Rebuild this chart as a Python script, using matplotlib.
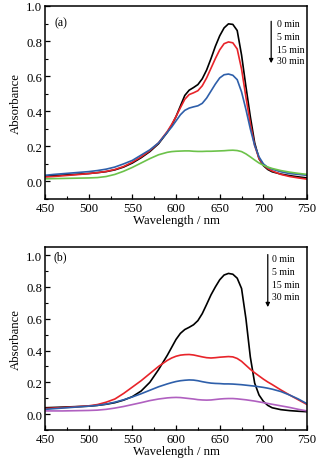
import matplotlib
matplotlib.use("Agg")
import matplotlib.pyplot as plt
from matplotlib.ticker import MultipleLocator

plt.rcParams['font.family'] = ['Liberation Serif', 'DejaVu Serif']

wl = [450, 460, 470, 480, 490, 500, 510, 520, 530, 540, 550, 560, 570, 580, 590,
      595, 600, 605, 610, 615, 620, 625, 630, 635, 640, 645, 650, 655, 660, 665,
      670, 675, 680, 685, 690, 695, 700, 705, 710, 720, 730, 740, 750]

a_0min = [.030, .033, .036, .039, .042, .045, .050, .056, .066, .082, .105, .135, .170, .215, .280,
          .320, .370, .430, .490, .520, .535, .552, .585, .635, .700, .770, .830, .875, .898, .895,
          .860, .720, .540, .370, .220, .130, .090, .068, .055, .042, .033, .026, .020]
a_5min = [.025, .028, .032, .036, .040, .045, .050, .057, .068, .085, .110, .140, .175, .220, .285,
          .325, .370, .420, .468, .495, .505, .517, .545, .590, .645, .700, .750, .785, .795, .790,
          .755, .640, .480, .330, .205, .130, .095, .073, .060, .040, .028, .020, .013]
a_15min = [.035, .040, .044, .048, .052, .056, .062, .070, .082, .100, .120, .150, .180, .220, .280,
           .310, .345, .380, .405, .418, .425, .431, .445, .475, .515, .555, .590, .608, .612, .605,
           .580, .510, .410, .300, .205, .140, .100, .080, .070, .055, .045, .040, .035]
a_30min = [.015, .016, .017, .018, .019, .020, .022, .028, .040, .058, .080, .105, .130, .152, .166,
           .170, .172, .173, .174, .174, .172, .171, .171, .172, .172, .173, .174, .175, .177, .178,
           .176, .170, .157, .140, .122, .105, .092, .082, .074, .062, .053, .046, .040]

b_0min = [.040, .042, .044, .046, .048, .050, .055, .062, .072, .088, .110, .145, .200, .280, .370,
          .420, .470, .508, .532, .546, .562, .588, .632, .690, .750, .800, .845, .875, .885, .880,
          .855, .790, .600, .360, .195, .120, .080, .055, .040, .028, .022, .018, .015]
b_5min = [.035, .038, .041, .044, .048, .052, .060, .075, .095, .130, .170, .210, .255, .300, .338,
          .353, .364, .371, .374, .375, .372, .366, .360, .355, .353, .355, .358, .360, .362, .360,
          .350, .332, .307, .282, .260, .240, .220, .202, .186, .152, .120, .090, .060]
b_15min = [.030, .034, .038, .042, .046, .050, .055, .063, .075, .090, .108, .128, .150, .172, .190,
           .198, .205, .210, .213, .215, .214, .210, .204, .199, .195, .193, .192, .190, .190, .189,
           .187, .185, .182, .179, .176, .172, .168, .163, .157, .142, .120, .095, .065]
b_30min = [.020, .020, .020, .021, .022, .023, .025, .030, .038, .048, .060, .072, .085, .095, .102,
           .104, .105, .104, .101, .098, .095, .091, .089, .088, .089, .092, .095, .097, .098, .098,
           .096, .093, .090, .086, .082, .077, .072, .067, .062, .052, .042, .030, .020]

times = ['0 min', '5 min', '15 min', '30 min']
xticks = [450, 500, 550, 600, 650, 700, 750]

fig = plt.figure(figsize=(3.26, 4.64), dpi=100)
ax1 = fig.add_axes([0.138, 0.569, 0.804, 0.416])
ax2 = fig.add_axes([0.138, 0.0711, 0.804, 0.394])

FS = 9.2

def style(ax, ylim):
    ax.set_xlim(450, 750)
    ax.set_ylim(*ylim)
    ax.set_xticks(xticks)
    ax.xaxis.set_minor_locator(MultipleLocator(25))
    ax.yaxis.set_major_locator(MultipleLocator(0.2))
    ax.yaxis.set_minor_locator(MultipleLocator(0.1))
    ax.tick_params(which='both', direction='in', top=False, right=False, labelsize=FS, pad=2)
    ax.tick_params(which='major', length=3.5, width=0.9)
    ax.tick_params(which='minor', length=2, width=0.8)
    for s in ax.spines.values():
        s.set_linewidth(1.1)
    ax.set_yticks([v for v in [0.0, 0.2, 0.4, 0.6, 0.8, 1.0]])
    ax.set_yticklabels(['0.0', '0.2', '0.4', '0.6', '0.8', '1.0'])
    ax.set_xlabel('Wavelength / nm', fontsize=FS, labelpad=0)
    ax.set_ylabel('Absorbance', fontsize=FS, labelpad=3)

lw = 1.2
ax1.plot(wl, a_0min, color='black', lw=lw)
ax1.plot(wl, a_5min, color='#e8242a', lw=lw)
ax1.plot(wl, a_15min, color='#2e5faa', lw=lw)
ax1.plot(wl, a_30min, color='#6cc24a', lw=lw)
style(ax1, (-0.1, 1.0))
ax1.text(0.06, 0.917, '(a)', transform=ax1.transAxes, fontsize=8.5, ha='center', va='center')

ax2.plot(wl, b_0min, color='black', lw=lw)
ax2.plot(wl, b_5min, color='#e8242a', lw=lw)
ax2.plot(wl, b_15min, color='#2e5faa', lw=lw)
ax2.plot(wl, b_30min, color='#b060c0', lw=lw)
style(ax2, (-0.1, 1.05))
ax2.text(0.06, 0.95, '(b)', transform=ax2.transAxes, fontsize=8.5, ha='center', va='center')

ax1.annotate('', xy=(0.863, 0.689), xytext=(0.863, 0.935), xycoords='axes fraction',
             arrowprops=dict(arrowstyle='-|>', color='black', lw=0.9, mutation_scale=6))
for t, y in zip(times, [0.907, 0.843, 0.777, 0.715]):
    ax1.text(0.885, y, t, transform=ax1.transAxes, fontsize=7, va='center', ha='left')

ax2.annotate('', xy=(0.85, 0.657), xytext=(0.85, 0.975), xycoords='axes fraction',
             arrowprops=dict(arrowstyle='-|>', color='black', lw=0.9, mutation_scale=6))
for t, y in zip(times, [0.938, 0.865, 0.796, 0.731]):
    ax2.text(0.865, y, t, transform=ax2.transAxes, fontsize=7, va='center', ha='left')

fig.savefig('out.png', dpi=100)
